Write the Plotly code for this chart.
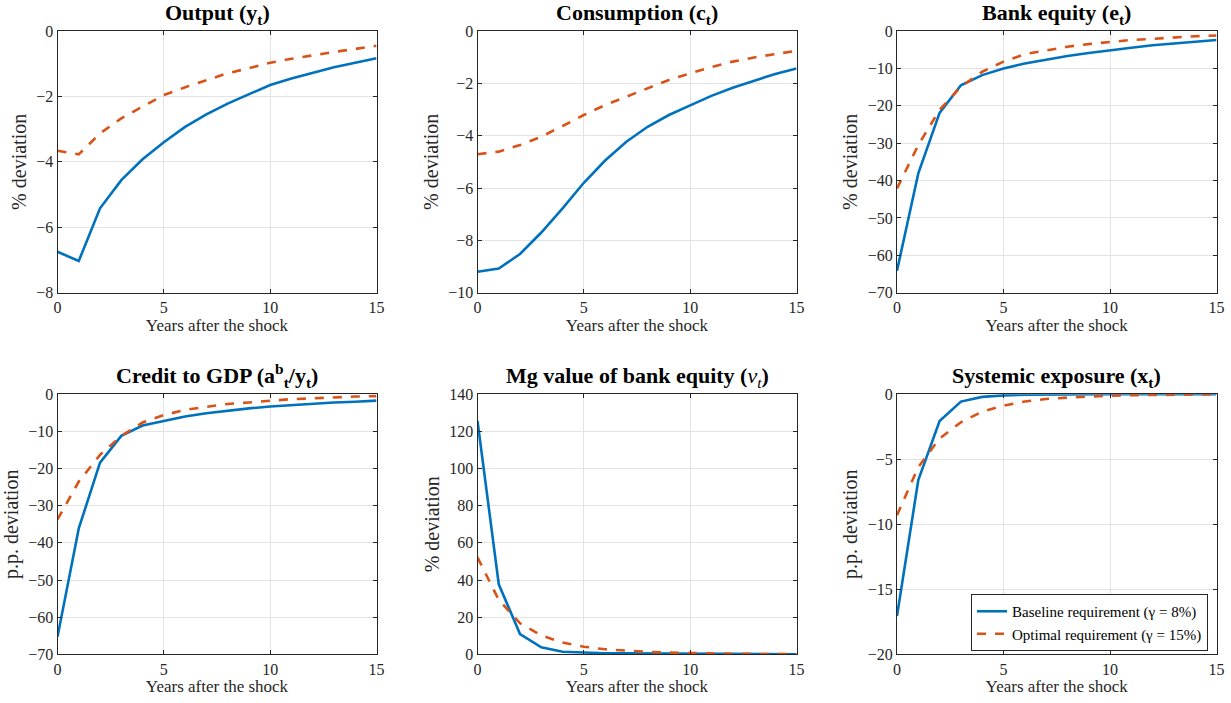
import plotly.graph_objects as go

years = list(range(16))

output_base = [-6.75, -7.03, -5.42, -4.56, -3.92, -3.40, -2.93, -2.55, -2.22, -1.93, -1.65, -1.45, -1.27, -1.11, -0.97, -0.83]
output_opt = [-3.66, -3.77, -3.13, -2.67, -2.31, -1.96, -1.72, -1.50, -1.29, -1.14, -0.97, -0.85, -0.74, -0.64, -0.55, -0.45]

cons_base = [-9.20, -9.08, -8.52, -7.70, -6.78, -5.80, -4.95, -4.23, -3.66, -3.21, -2.84, -2.48, -2.17, -1.90, -1.64, -1.43]
cons_opt = [-4.71, -4.61, -4.36, -4.04, -3.63, -3.21, -2.83, -2.51, -2.17, -1.87, -1.62, -1.38, -1.17, -1.01, -0.88, -0.76]

equity_base = [-64.1, -38.1, -21.9, -14.5, -11.8, -10.0, -8.7, -7.6, -6.7, -5.9, -5.1, -4.5, -3.8, -3.3, -2.9, -2.4]
equity_opt = [-42.1, -30.5, -21.1, -14.9, -10.9, -8.2, -6.2, -5.1, -4.2, -3.5, -2.9, -2.4, -2.1, -1.7, -1.4, -1.2]

credit_base = [-65.3, -36.1, -18.4, -11.2, -8.4, -7.1, -6.0, -5.1, -4.4, -3.8, -3.3, -2.9, -2.5, -2.2, -2.0, -1.7]
credit_opt = [-33.7, -23.5, -16.3, -11.2, -7.6, -5.6, -4.2, -3.3, -2.6, -2.2, -1.7, -1.3, -1.1, -0.8, -0.6, -0.5]

mgv_base = [125.6, 37.7, 10.9, 3.8, 1.4, 0.9, 0.6, 0.5, 0.4, 0.3, 0.25, 0.2, 0.15, 0.1, 0.1, 0.05]
mgv_opt = [52.2, 29.3, 16.7, 10.2, 6.3, 4.1, 2.7, 1.8, 1.3, 0.9, 0.6, 0.4, 0.3, 0.2, 0.15, 0.1]

sysexp_base = [-17.05, -6.6, -2.05, -0.56, -0.2, -0.08, -0.03, -0.01, 0, 0, 0, 0, 0, 0, 0, 0]
sysexp_opt = [-9.3, -5.6, -3.4, -2.15, -1.33, -0.87, -0.56, -0.36, -0.25, -0.17, -0.11, -0.07, -0.05, -0.03, -0.02, -0.01]

titles = ["<b>Output (y<sub>t</sub>)</b>", "<b>Consumption (c<sub>t</sub>)</b>", "<b>Bank equity (e<sub>t</sub>)</b>",
          "<b>Credit to GDP (a<sup>b</sup><sub>t</sub>/y<sub>t</sub>)</b>", "<b>Mg value of bank equity (</b><i>v<sub>t</sub></i><b>)</b>",
          "<b>Systemic exposure (x<sub>t</sub>)</b>"]
ylabels = ["% deviation", "% deviation", "% deviation", "p.p. deviation", "% deviation", "p.p. deviation"]
yranges = [[-8, 0], [-10, 0], [-70, 0], [-70, 0], [0, 140], [-20, 0]]
ydticks = [2, 2, 10, 10, 20, 5]
series_base = [output_base, cons_base, equity_base, credit_base, mgv_base, sysexp_base]
series_opt = [output_opt, cons_opt, equity_opt, credit_opt, mgv_opt, sysexp_opt]
legend_names = ["Baseline requirement (γ = 8%)", "Optimal requirement (γ = 15%)"]

W, H = 1231, 703
xdoms = [[57.5 / W, 376.5 / W], [477.5 / W, 796.5 / W], [897 / W, 1216.5 / W]]
ydoms = [[1 - 292.7 / H, 1 - 31 / H], [1 - 654.3 / H, 1 - 394.3 / H]]

BLUE = "#0072BD"
ORANGE = "#D95319"
FONT = "Liberation Serif"
AX = "#262626"

fig = go.Figure()
layout = {}
annotations = []
for i in range(6):
    r, c = divmod(i, 3)
    n = "" if i == 0 else str(i + 1)
    fig.add_trace(go.Scatter(x=years, y=series_base[i], mode="lines", name=legend_names[0],
                             line=dict(color=BLUE, width=2.6), xaxis="x" + n, yaxis="y" + n,
                             showlegend=(i == 5), legendrank=1))
    fig.add_trace(go.Scatter(x=years, y=series_opt[i], mode="lines", name=legend_names[1],
                             line=dict(color=ORANGE, width=2.6, dash="dash"), xaxis="x" + n, yaxis="y" + n,
                             showlegend=(i == 5), legendrank=2))
    layout["xaxis" + n] = dict(domain=xdoms[c], anchor="y" + n, range=[0, 15], dtick=5, tick0=0,
                               automargin=False,
                               showline=True, mirror="ticks", linecolor=AX, linewidth=1,
                               ticks="inside", ticklen=4, tickcolor=AX,
                               showgrid=True, gridcolor="#e3e3e3", gridwidth=1, zeroline=False,
                               tickfont=dict(family=FONT, size=16, color=AX),
                               title=dict(text="Years after the shock", font=dict(family=FONT, size=17, color=AX), standoff=0))
    layout["yaxis" + n] = dict(domain=ydoms[r], anchor="x" + n, range=yranges[i], dtick=ydticks[i],
                               automargin=False,
                               showline=True, mirror="ticks", linecolor=AX, linewidth=1,
                               ticks="inside", ticklen=4, tickcolor=AX,
                               showgrid=True, gridcolor="#e3e3e3", gridwidth=1, zeroline=False,
                               tickfont=dict(family=FONT, size=16, color=AX),
                               title=dict(text=ylabels[i], font=dict(family=FONT, size=20, color=AX), standoff=4))
    annotations.append(dict(text=titles[i], x=(xdoms[c][0] + xdoms[c][1]) / 2, y=ydoms[r][1],
                            xref="paper", yref="paper", xanchor="center", yanchor="bottom", yshift=1,
                            showarrow=False, font=dict(family=FONT, size=22, color="black")))

fig.update_layout(**layout)
fig.update_layout(
    width=W, height=H, margin=dict(l=0, r=0, t=0, b=0),
    paper_bgcolor="white", plot_bgcolor="white",
    annotations=annotations,
    legend=dict(x=1208 / W, y=1 - 651 / H, xanchor="right", yanchor="bottom",
                bordercolor=AX, borderwidth=1, bgcolor="white",
                font=dict(family=FONT, size=15, color="black"), tracegroupgap=0,
                itemwidth=30),
)
fig.write_html("out.html")
